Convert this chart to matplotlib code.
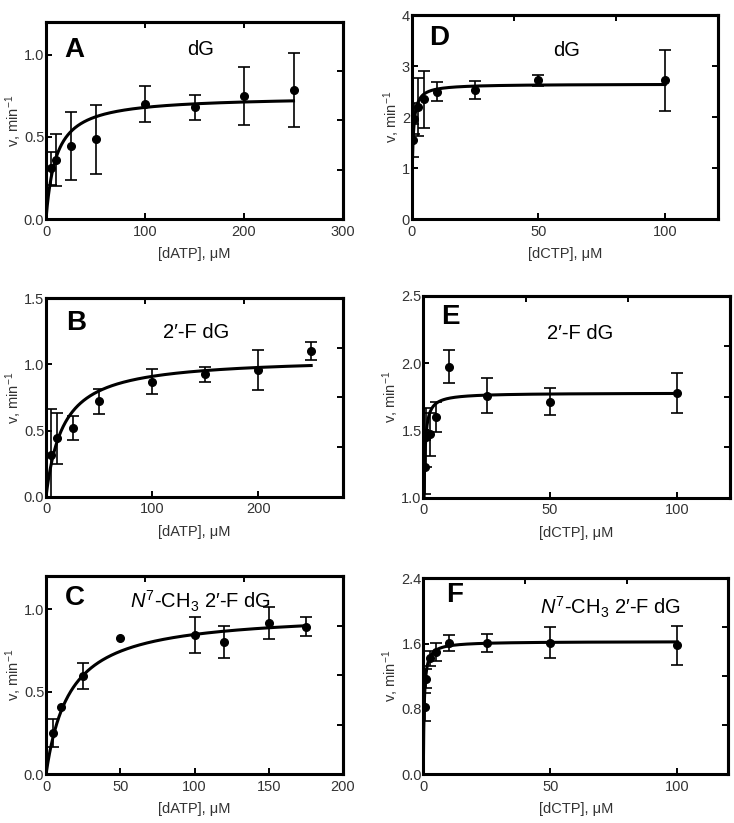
import numpy as np
import matplotlib
matplotlib.use('Agg')
from matplotlib import pyplot as plt

plt.rcParams['font.family'] = ['Liberation Sans', 'DejaVu Sans']
plt.rcParams['mathtext.fontset'] = 'custom'
plt.rcParams['mathtext.rm'] = 'Liberation Sans'
plt.rcParams['mathtext.it'] = 'Liberation Sans:italic'

# panel A - dG, dATP
a_x = [5, 10, 25, 50, 100, 150, 200, 250]
a_y = [0.31, 0.36, 0.445, 0.485, 0.70, 0.68, 0.75, 0.785]
a_err = [0.10, 0.16, 0.205, 0.21, 0.11, 0.077, 0.175, 0.225]
# panel B - 2'-F dG, dATP
b_x = [5, 10, 25, 50, 100, 150, 200, 250]
b_y = [0.315, 0.44, 0.52, 0.72, 0.87, 0.925, 0.96, 1.10]
b_err = [0.35, 0.19, 0.09, 0.095, 0.093, 0.055, 0.15, 0.067]
# panel C - N7-CH3 2'-F dG, dATP
c_x = [5, 10, 25, 50, 100, 120, 150, 175]
c_y = [0.25, 0.41, 0.596, 0.824, 0.844, 0.804, 0.917, 0.895]
c_err = [0.085, np.nan, 0.077, np.nan, 0.11, 0.097, 0.095, 0.06]
# panel D - dG, dCTP
d_x = [0.5, 1, 2.5, 5, 10, 25, 50, 100]
d_y = [1.55, 1.97, 2.2, 2.35, 2.5, 2.53, 2.72, 2.72]
d_err = [0.32, 0.30, 0.57, 0.56, 0.18, 0.175, 0.1, 0.59]
# panel E - 2'-F dG, dCTP
e_x = [0.5, 1, 2.5, 5, 10, 25, 50, 100]
e_y = [1.23, 1.45, 1.47, 1.60, 1.975, 1.757, 1.715, 1.777]
e_err = [0.2, 0.22, 0.16, 0.115, 0.125, 0.13, 0.1, 0.15]
# panel F - N7-CH3 2'-F dG, dCTP
f_x = [0.5, 1, 2.5, 5, 10, 25, 50, 100]
f_y = [0.82, 1.17, 1.42, 1.50, 1.61, 1.61, 1.61, 1.58]
f_err = [0.17, 0.12, 0.09, 0.11, 0.10, 0.11, 0.19, 0.24]

# Michaelis-Menten fits (Vmax, Km)
fits = {'A': (0.749, 10.2), 'B': (1.055, 16.0), 'C': (0.982, 15.9),
        'D': (2.65, 0.39), 'E': (1.779, 0.232), 'F': (1.626, 0.35)}

panels = [
    # letter, x, y, err, title, xlabel, xlim, ylim, yticks, ytick labels, xticks,
    # rect, letter pos, title pos
    ('A', a_x, a_y, a_err, 'dG', '[dATP], \u03bcM', (0, 300), (0, 1.2),
     [0, 0.5, 1.0], ['0.0', '0.5', '1.0'], [0, 100, 200, 300],
     [0.0627, 0.7339, 0.4046, 0.2394], (0.062, 0.858), (0.52, 0.858)),
    ('B', b_x, b_y, b_err, '2\u2032-F dG', '[dATP], \u03bcM', (0, 280), (0, 1.5),
     [0, 0.5, 1.0, 1.5], ['0.0', '0.5', '1.0', '1.5'], [0, 100, 200],
     [0.0627, 0.3965, 0.4046, 0.2411], (0.068, 0.874), (0.507, 0.827)),
    ('C', c_x, c_y, c_err, r'$\mathit{N}^{7}$-CH$_{3}$ 2' + '\u2032-F dG', '[dATP], \u03bcM',
     (0, 200), (0, 1.2), [0, 0.5, 1.0], ['0.0', '0.5', '1.0'], [0, 50, 100, 150, 200],
     [0.0627, 0.0592, 0.4046, 0.2406], (0.062, 0.889), (0.52, 0.875)),
    ('D', d_x, d_y, d_err, 'dG', '[dCTP], \u03bcM', (0, 121), (0, 4),
     [0, 1, 2, 3, 4], ['0', '1', '2', '3', '4'], [0, 50, 100],
     [0.5609, 0.7335, 0.4177, 0.2482], (0.058, 0.889), (0.505, 0.825)),
    ('E', e_x, e_y, e_err, '2\u2032-F dG', '[dCTP], \u03bcM', (0, 121), (1.0, 2.5),
     [1.0, 1.5, 2.0, 2.5], ['1.0', '1.5', '2.0', '2.5'], [0, 50, 100],
     [0.5767, 0.3953, 0.4178, 0.2451], (0.058, 0.897), (0.511, 0.815)),
    ('F', f_x, f_y, f_err, r'$\mathit{N}^{7}$-CH$_{3}$ 2' + '\u2032-F dG', '[dCTP], \u03bcM',
     (0, 120), (0, 2.4), [0, 0.8, 1.6, 2.4], ['0.0', '0.8', '1.6', '2.4'], [0, 50, 100],
     [0.5767, 0.0595, 0.4155, 0.2378], (0.075, 0.915), (0.613, 0.85)),
]

fig = plt.figure(figsize=(7.34, 8.23), dpi=100)

for (letter, x, y, err, title, xlabel, xlim, ylim, yticks, ylabels, xticks,
     rect, letter_pos, title_pos) in panels:
    ax = fig.add_axes(rect)
    vmax, km = fits[letter]
    xs = np.linspace(0, max(x), 600)
    ax.plot(xs, vmax * xs / (km + xs), color='black', lw=2.2, zorder=2)
    ax.errorbar(x, y, yerr=err, fmt='o', color='black', ms=5.5,
                elinewidth=1.2, capsize=4.2, capthick=1.2, zorder=3)
    ax.set_xlim(*xlim)
    ax.set_ylim(*ylim)
    ax.set_yticks(yticks)
    ax.set_yticklabels(ylabels)
    ax.set_xticks(xticks)
    ax.tick_params(direction='in', length=4, width=1.4, labelsize=10.5,
                   colors='black', labelcolor='#333333')
    ax.tick_params(axis='y', pad=1.2)
    ax.tick_params(axis='x', pad=4)
    for s in ax.spines.values():
        s.set_linewidth(2.2)
    ax.set_xlabel(xlabel, fontsize=10.5, labelpad=6, color='#333333')
    ax.set_ylabel('v, min$^{-1}$', fontsize=10.5, labelpad=0, color='#333333')

    # mirrored top/right ticks at thirds and quarters of the ranges
    top = ax.secondary_xaxis('top')
    top.set_xticks([xlim[0] + (xlim[1] - xlim[0]) * k / 3 for k in (1, 2)])
    top.tick_params(direction='in', length=4, width=1.4, labeltop=False)
    top.spines['top'].set_linewidth(2.2)
    right = ax.secondary_yaxis('right')
    right.set_yticks([ylim[0] + (ylim[1] - ylim[0]) * k / 4 for k in (1, 2, 3)])
    right.tick_params(direction='in', length=4, width=1.4, labelright=False)
    right.spines['right'].set_linewidth(2.2)

    ax.text(letter_pos[0], letter_pos[1], letter, transform=ax.transAxes,
            fontsize=20, fontweight='bold', ha='left', va='center')
    ax.text(title_pos[0], title_pos[1], title, transform=ax.transAxes,
            fontsize=14.5, ha='center', va='center')

fig.savefig('out.png', dpi=100)
